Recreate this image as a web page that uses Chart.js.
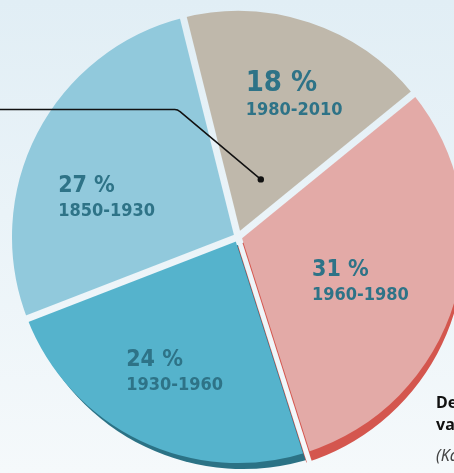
<!DOCTYPE html>
<html>
<head>
<meta charset="utf-8">
<script src="https://cdn.jsdelivr.net/npm/chart.js@4"></script>
<style>
  html, body { margin:0; padding:0; width:454px; height:473px; overflow:hidden; }
  body { background: linear-gradient(180deg, #e1eef5 0%, #eaf3f8 45%, #f5f9fb 100%); position:relative; font-family:"Noto Sans", sans-serif; }
  #wrap { position:absolute; left:0; top:0; width:474px; height:473px; }
  .note { position:absolute; left:436px; white-space:nowrap; font-size:16px; line-height:20px; }
  .note b { color:#111; }
  .note i { color:#444; }
</style>
</head>
<body>
<div id="wrap"><canvas id="pie" width="474" height="473"></canvas></div>
<div class="note" style="top:392px"><b>De verdeling</b></div>
<div class="note" style="top:414px"><b>van woningen</b></div>
<div class="note" style="top:445px"><i>(Kadaster)</i></div>

<script>
// building periods and their share of the stock (%)
const periods = ["1980-2010", "1960-1980", "1930-1960", "1850-1930"];
const shares  = [18, 31, 24, 27];

const sliceColors  = ["#bfb8ab", "#e3aaa7", "#55b3cc", "#91c9dc"];
const shadowColors = [null, "#d4564e", "#2b7285", null];
const shadowShift  = [null, [0, 10], [5, 6], null];

// label placement relative to each slice (fraction of radius, turn in degrees)
const labelDist = [0.594, 0.609, 0.733, 0.589];
const labelTurn = [6.3, 10.6, -3.1, -18.3];
const labelBig  = [true, false, false, false];

const textColor = "#2e7387";
const font = '"DejaVu Sans Condensed", "Liberation Sans Narrow", sans-serif';

function midAngle(a, turnDeg){
  return (a.startAngle + a.endAngle) / 2 + turnDeg * Math.PI / 180;
}

function wedge(ctx, a, dx, dy){
  ctx.beginPath();
  ctx.moveTo(a.x + dx, a.y + dy);
  ctx.arc(a.x + dx, a.y + dy, a.outerRadius, a.startAngle, a.endAngle);
  ctx.closePath();
}

const piePlugin = {
  id: "pieDecor",
  afterDatasetsDraw(chart){
    const ctx = chart.ctx;
    const arcs = chart.getDatasetMeta(0).data;

    // separators between slices
    function cut(width){
      ctx.save();
      ctx.globalCompositeOperation = "destination-out";
      ctx.lineWidth = width;
      ctx.lineCap = "butt";
      arcs.forEach(a => {
        ctx.beginPath();
        ctx.moveTo(a.x, a.y);
        const r = a.outerRadius + 30;
        ctx.lineTo(a.x + Math.cos(a.startAngle) * r, a.y + Math.sin(a.startAngle) * r);
        ctx.stroke();
      });
      ctx.restore();
    }
    cut(7);

    // 3d edges behind the slices
    ctx.save();
    ctx.globalCompositeOperation = "destination-over";
    arcs.forEach((a, i) => {
      if (!shadowColors[i]) return;
      ctx.fillStyle = shadowColors[i];
      wedge(ctx, a, shadowShift[i][0], shadowShift[i][1]);
      ctx.fill();
    });
    ctx.restore();
    cut(5);

    // labels
    ctx.save();
    ctx.fillStyle = textColor;
    ctx.textAlign = "left";
    ctx.textBaseline = "alphabetic";
    arcs.forEach((a, i) => {
      const ang = midAngle(a, labelTurn[i]);
      const d = a.outerRadius * labelDist[i];
      const cx = a.x + Math.cos(ang) * d;
      const base = a.y + Math.sin(ang) * d;
      ctx.font = "bold 18px " + font;
      const w = ctx.measureText(periods[i]).width;
      const left = cx - w / 2;
      ctx.fillText(periods[i], left, base);
      ctx.font = "bold " + (labelBig[i] ? 29 : 23) + "px " + font;
      ctx.fillText(shares[i] + " %", left, base - 24);
    });
    ctx.restore();

    // leader line into the newest slice
    const a0 = arcs[0];
    const ang = midAngle(a0, 3.2);
    const d = a0.outerRadius * 0.274;
    const px = a0.x + Math.cos(ang) * d;
    const py = a0.y + Math.sin(ang) * d;
    ctx.save();
    ctx.strokeStyle = "#111";
    ctx.lineWidth = 1.5;
    ctx.beginPath();
    ctx.moveTo(px, py);
    ctx.lineTo(px - 81, py - 68);
    ctx.quadraticCurveTo(px - 83, py - 70, px - 86, py - 70);
    ctx.lineTo(-5, py - 70);
    ctx.stroke();
    ctx.fillStyle = "#111";
    ctx.beginPath();
    ctx.arc(px, py, 3.2, 0, Math.PI * 2);
    ctx.fill();
    ctx.restore();
  }
};

new Chart(document.getElementById("pie"), {
  type: "pie",
  data: {
    labels: periods,
    datasets: [{
      data: shares,
      backgroundColor: sliceColors,
      borderWidth: 0
    }]
  },
  options: {
    responsive: false,
    animation: false,
    rotation: -14,
    layout: { padding: { left: 12, top: 11, right: 10, bottom: 10 } },
    plugins: { legend: { display: false }, tooltip: { enabled: false } }
  },
  plugins: [piePlugin]
});
</script>
</body>
</html>
